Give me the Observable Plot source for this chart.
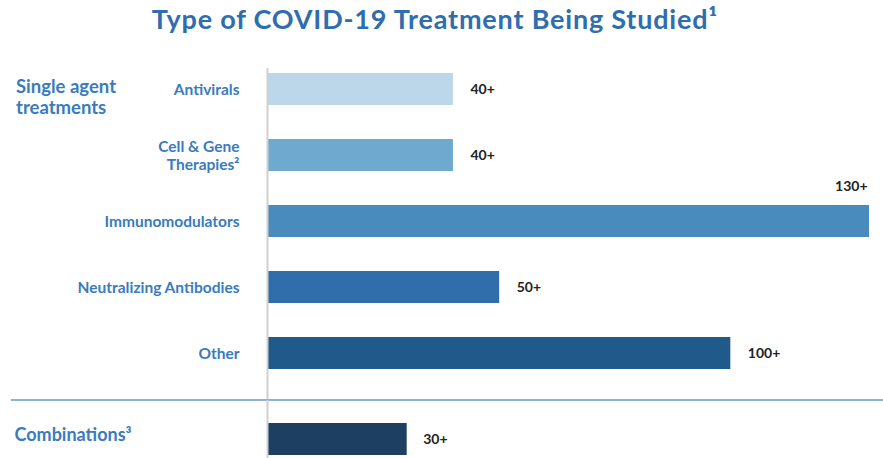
<!DOCTYPE html>
<html>
<head>
<meta charset="utf-8">
<script src="https://cdn.jsdelivr.net/npm/d3@7"></script>
<script src="https://cdn.jsdelivr.net/npm/@observablehq/plot@0.6"></script>
<style>
  html, body { margin: 0; padding: 0; background: #fff; }
  #wrap { position: relative; width: 883px; height: 458px; overflow: hidden; font-family: Lato, "Open Sans", sans-serif; }
  #title { position: absolute; left: 0; top: 4px; width: 870px; text-align: center; font-size: 27px; font-weight: 700; color: #2f6eae; line-height: 30px; letter-spacing: 0.8px; }
  #group1 { position: absolute; left: 16px; top: 76px; font-size: 18.5px; font-weight: 700; color: #3a7bbd; line-height: 21px; }
  #sep { position: absolute; left: 11px; right: 0; top: 399px; height: 2px; background: #8db3da; }
  #plotA { position: absolute; left: 0; top: 68px; }
  #plotB { position: absolute; left: 0; top: 400px; }
  svg text { font-family: Lato, "Open Sans", sans-serif; }
</style>
</head>
<body>
<div id="wrap">
  <div id="title">Type of COVID-19 Treatment Being Studied¹</div>
  <div id="group1">Single agent<br>treatments</div>
  <div id="plotA"></div>
  <div id="sep"></div>
  <div id="plotB"></div>
</div>
<script>
// Single agent treatments
const singleLabels = ["Antivirals", "Cell & Gene\nTherapies²", "Immunomodulators", "Neutralizing Antibodies", "Other"];
const singleValues = [40, 40, 130, 50, 100];
const singleColors = ["#bdd7ea", "#70a9d0", "#4a8bbd", "#2f6eaa", "#1f5a8b"];
// Combinations
const comboLabels = ["Combinations³"];
const comboValues = [30];
const comboColors = ["#1d3f62"];
const valueSuffix = "+";
const xMax = 130;

const blue = "#3a7bbd";
const singles = singleLabels.map((label, i) => ({label, value: singleValues[i], color: singleColors[i]}));
const combos = comboLabels.map((label, i) => ({label, value: comboValues[i], color: comboColors[i]}));
const maxVal = d3.max(singleValues.concat(comboValues));

const common = {
  width: 883,
  marginLeft: 268,
  marginRight: 14,
  marginTop: 0,
  marginBottom: 0,
  x: {domain: [0, xMax], axis: null},
  style: {fontFamily: "Lato, 'Open Sans', sans-serif", background: "transparent", overflow: "visible"}
};

const plotA = Plot.plot({
  ...common,
  height: 332,
  y: {domain: singleLabels, range: [5, 301], paddingInner: 0.515, paddingOuter: 0, round: false, axis: null},
  color: {domain: singleLabels, range: singleColors},
  marks: [
    Plot.barX(singles, {x: "value", y: "label", fill: "label"}),
    Plot.ruleX([0], {stroke: "#d0d0d0", strokeWidth: 2, dx: -1}),
    Plot.text(singles, {frameAnchor: "left", y: "label", text: "label", textAnchor: "end", dx: -29,
      fontSize: 15.5, fontWeight: "bold", fill: blue, lineHeight: 1.16}),
    Plot.text(singles.filter(d => d.value !== maxVal), {x: "value", y: "label", text: d => d.value + valueSuffix,
      textAnchor: "start", dx: 17, fontSize: 14, fontWeight: "bold", fill: "#222"}),
    Plot.text(singles.filter(d => d.value === maxVal), {x: "value", y: "label", text: d => d.value + valueSuffix,
      textAnchor: "end", dx: -2, dy: -35, fontSize: 14, fontWeight: "bold", fill: "#222"})
  ]
});
plotA.querySelectorAll("text").forEach(t => { if (t.getAttribute("font-size") === "15.5") t.style.letterSpacing = "0.45px"; });
document.getElementById("plotA").appendChild(plotA);

const plotB = Plot.plot({
  ...common,
  height: 58,
  y: {domain: comboLabels, range: [23, 55], padding: 0, round: false, axis: null},
  color: {domain: comboLabels, range: comboColors},
  marks: [
    Plot.barX(combos, {x: "value", y: "label", fill: "label"}),
    Plot.ruleX([0], {stroke: "#d0d0d0", strokeWidth: 2, dx: -1}),
    Plot.text(combos, {frameAnchor: "left", y: "label", text: "label", textAnchor: "start", dx: -254, dy: -4,
      fontSize: 18, fontWeight: "bold", fill: blue}),
    Plot.text(combos, {x: "value", y: "label", text: d => d.value + valueSuffix,
      textAnchor: "start", dx: 16, fontSize: 14, fontWeight: "bold", fill: "#222"})
  ]
});
document.getElementById("plotB").appendChild(plotB);
</script>
</body>
</html>
